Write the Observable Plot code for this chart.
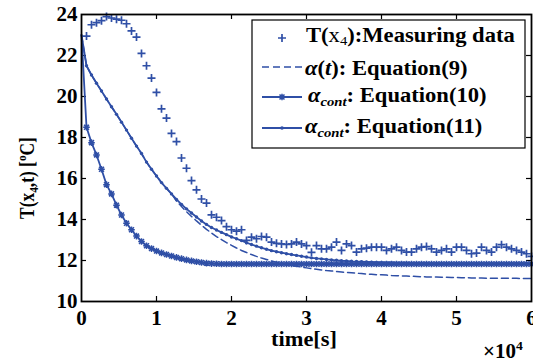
<!DOCTYPE html>
<html>
<head>
<meta charset="utf-8">
<script src="https://cdn.jsdelivr.net/npm/d3@7"></script>
<script src="https://cdn.jsdelivr.net/npm/@observablehq/plot@0.6"></script>
<style>
  html, body { margin: 0; padding: 0; background: #fff; }
  #chart { width: 533px; height: 361px; }
</style>
</head>
<body>
<div id="chart"></div>
<script>
// ---- data ----
const time = [0, 667, 1333, 2000, 2667, 3333, 4000, 4667, 5333, 6000,
  6667, 7333, 8000, 8667, 9333, 10000, 10667, 11333, 12000, 12667,
  13333, 14000, 14667, 15333, 16000, 16667, 17333, 18000, 18667, 19333,
  20000, 20667, 21333, 22000, 22667, 23333, 24000, 24667, 25333, 26000,
  26667, 27333, 28000, 28667, 29333, 30000, 30667, 31333, 32000, 32667,
  33333, 34000, 34667, 35333, 36000, 36667, 37333, 38000, 38667, 39333,
  40000, 40667, 41333, 42000, 42667, 43333, 44000, 44667, 45333, 46000,
  46667, 47333, 48000, 48667, 49333, 50000, 50667, 51333, 52000, 52667,
  53333, 54000, 54667, 55333, 56000, 56667, 57333, 58000, 58667, 59333, 60000];

const measured = [null,
  22.95, 23.5, 23.6, 23.7, 23.9, 23.83, 23.77, 23.72, 23.55, 23.2,
  22.9, 22.1, 21.5, 20.9, 20.2, 19.4, 18.95, 18.2, 17.8, 17.0,
  16.5, 15.9, 15.45, 15.0, 14.8, 14.23, 14.11, 13.95, 13.65, 13.5,
  13.43, 13.5, 12.98, 13.14, 13.06, 13.17, 13.14, 12.9, 12.84, 12.81,
  12.78, 12.81, 12.9, 12.81, 12.73, 12.4, 12.73, 12.57, 12.57, 12.65,
  12.9, 12.49, 12.81, 12.73, 12.41, 12.57, 12.6, 12.65, 12.65, 12.65,
  12.49, 12.57, 12.65, 12.49, 12.41, 12.41, 12.57, 12.65, 12.68, 12.57,
  12.41, 12.49, 12.57, 12.41, 12.65, 12.65, 12.49, 12.33, 12.36, 12.65,
  12.49, 12.41, 12.65, 12.77, 12.65, 12.57, 12.49, 12.41, 12.33, 12.2];

const eq9 = [23.0,
  21.5, 21.05, 20.65, 20.27, 19.88, 19.5, 19.13, 18.75, 18.36, 17.96,
  17.58, 17.22, 16.8, 16.45, 16.12, 15.8, 15.52, 15.25, 14.9, 14.63,
  14.38, 14.15, 13.93, 13.72, 13.52, 13.34, 13.17, 13.02, 12.87, 12.74,
  12.61, 12.49, 12.39, 12.29, 12.2, 12.12, 12.05, 11.98, 11.92, 11.86,
  11.81, 11.76, 11.72, 11.68, 11.64, 11.6, 11.57, 11.54, 11.51, 11.49,
  11.46, 11.44, 11.42, 11.4, 11.38, 11.36, 11.34, 11.33, 11.31, 11.3,
  11.29, 11.27, 11.26, 11.25, 11.24, 11.23, 11.22, 11.21, 11.2, 11.2,
  11.19, 11.18, 11.18, 11.17, 11.17, 11.16, 11.16, 11.15, 11.15, 11.15,
  11.14, 11.14, 11.14, 11.13, 11.13, 11.13, 11.13, 11.12, 11.12, 11.12];

const eq10 = [23.0,
  18.5, 17.75, 17.15, 16.45, 15.7, 15.25, 14.7, 14.22, 13.82, 13.5,
  13.19, 12.93, 12.72, 12.58, 12.46, 12.37, 12.29, 12.22, 12.15, 12.09,
  12.03, 11.98, 11.94, 11.9, 11.87, 11.85, 11.84, 11.83, 11.83, 11.83,
  11.83, 11.83, 11.83, 11.83, 11.83, 11.83, 11.83, 11.83, 11.83, 11.83,
  11.83, 11.83, 11.83, 11.83, 11.83, 11.83, 11.83, 11.83, 11.83, 11.83,
  11.83, 11.83, 11.83, 11.83, 11.83, 11.83, 11.83, 11.83, 11.83, 11.83,
  11.83, 11.83, 11.83, 11.83, 11.83, 11.83, 11.83, 11.83, 11.83, 11.83,
  11.83, 11.83, 11.83, 11.83, 11.83, 11.83, 11.83, 11.83, 11.83, 11.83,
  11.83, 11.83, 11.83, 11.83, 11.83, 11.83, 11.83, 11.83, 11.83, 11.83];

const eq11 = [23.0,
  21.5, 21.05, 20.65, 20.27, 19.88, 19.5, 19.13, 18.75, 18.36, 17.96,
  17.58, 17.22, 16.8, 16.45, 16.12, 15.8, 15.52, 15.25, 14.98, 14.74,
  14.52, 14.32, 14.12, 13.93, 13.76, 13.61, 13.49, 13.37, 13.26, 13.15,
  13.06, 12.97, 12.87, 12.78, 12.7, 12.62, 12.55, 12.48, 12.43, 12.38,
  12.33, 12.29, 12.25, 12.21, 12.17, 12.13, 12.1, 12.08, 12.05, 12.03,
  12.01, 11.99, 11.98, 11.96, 11.95, 11.94, 11.93, 11.92, 11.91, 11.9,
  11.89, 11.89, 11.88, 11.88, 11.88, 11.87, 11.87, 11.87, 11.87, 11.86,
  11.86, 11.86, 11.86, 11.86, 11.86, 11.86, 11.86, 11.86, 11.86, 11.86,
  11.86, 11.86, 11.86, 11.86, 11.86, 11.86, 11.86, 11.86, 11.86, 11.86];

const yTicks = [10, 12, 14, 16, 18, 20, 22, 24];
const xTicks = [0, 10000, 20000, 30000, 40000, 50000, 60000];
const xTickLabels = ["0", "1", "2", "3", "4", "5", "6"];
const xLabel = "time[s]";
const xExponent = ["×10", "4"];
const legendLabels = ["Measuring data", "Equation(9)", "Equation(10)", "Equation(11)"];

// ---- rendering ----
const blue = "#2f4fa6";
const rows = time.map((t, i) => ({t, meas: measured[i], eq9: eq9[i], eq10: eq10[i], eq11: eq11[i]}));

const crossSymbol = {
  draw(ctx, size) {
    const r = Math.sqrt(size / Math.PI);
    ctx.moveTo(-r, 0); ctx.lineTo(r, 0);
    ctx.moveTo(0, -r); ctx.lineTo(0, r);
  }
};
const starSymbol = {
  draw(ctx, size) {
    const r = Math.sqrt(size / Math.PI);
    const d = r * 0.75;
    ctx.moveTo(-r, 0); ctx.lineTo(r, 0);
    ctx.moveTo(0, -r); ctx.lineTo(0, r);
    ctx.moveTo(-d, -d); ctx.lineTo(d, d);
    ctx.moveTo(-d, d); ctx.lineTo(d, -d);
  }
};

const innerX = xTicks.slice(1, -1);
const innerY = yTicks.slice(1, -1);
const yPx = 14 / 287;      // data units per pixel (y)
const xPx = 60000 / 450;   // data units per pixel (x)
const tickLen = 5;

const chart = Plot.plot({
  width: 533,
  height: 361,
  marginLeft: 81,
  marginRight: 2,
  marginTop: 14,
  marginBottom: 60,
  style: {fontFamily: "'Liberation Serif', 'Times New Roman', serif", fontSize: "21px", fontWeight: "bold", color: "#000", background: "#fff"},
  x: {domain: [0, 60000]},
  y: {domain: [10, 24]},
  marks: [
    Plot.ruleX(innerX, {x: d => d, y1: 10, y2: 10 + tickLen * yPx, stroke: "#000", strokeWidth: 1.2}),
    Plot.ruleX(innerX, {x: d => d, y1: 24, y2: 24 - tickLen * yPx, stroke: "#000", strokeWidth: 1.2}),
    Plot.ruleY(innerY, {y: d => d, x1: 0, x2: tickLen * xPx, stroke: "#000", strokeWidth: 1.2}),
    Plot.ruleY(innerY, {y: d => d, x1: 60000, x2: 60000 - tickLen * xPx, stroke: "#000", strokeWidth: 1.2}),
    Plot.line(rows, {x: "t", y: "eq9", stroke: blue, strokeWidth: 1.5, strokeDasharray: "7,4"}),
    Plot.line(rows, {x: "t", y: "eq11", stroke: blue, strokeWidth: 1.8}),
    Plot.dot(rows, {filter: (d, i) => i > 0, x: "t", y: "eq11", r: 1.7, fill: blue, stroke: "none"}),
    Plot.line(rows, {x: "t", y: "eq10", stroke: blue, strokeWidth: 1.8}),
    Plot.dot(rows, {filter: (d, i) => i > 0, x: "t", y: "eq10", symbol: starSymbol, r: 3.3, stroke: blue, strokeWidth: 1.5, fill: "none"}),
    Plot.dot(rows, {filter: d => d.meas != null, x: "t", y: "meas", symbol: crossSymbol, r: 4, stroke: blue, strokeWidth: 1.7, fill: "none"}),
    Plot.axisY({ticks: yTicks, tickSize: 0, tickPadding: 4, label: null, fontSize: 21, fontWeight: "bold"}),
    Plot.axisX({ticks: xTicks, tickFormat: d => xTickLabels[xTicks.indexOf(d)], tickSize: 0, tickPadding: 9, label: null, fontSize: 21, fontWeight: "bold"}),
    Plot.frame({stroke: "#000", strokeWidth: 1.8})
  ]
});
document.getElementById("chart").appendChild(chart);

// ---- annotations (axis titles, exponent, legend) ----
const svg = d3.select(chart);
const font = "'Liberation Serif', 'Times New Roman', serif";
const boldText = (sel) => sel.attr("font-family", font).attr("font-size", 20)
  .attr("font-weight", "bold").attr("fill", "#000");

// y title
const yt = boldText(svg.append("text"))
  .attr("transform", "translate(27,178) rotate(-90) scale(0.87,1)")
  .attr("text-anchor", "middle").attr("dy", "0.35em");
yt.append("tspan").text("T(x");
yt.append("tspan").attr("font-size", 13).attr("dy", 4).text("4");
yt.append("tspan").attr("dy", -4).text(",t) [");
yt.append("tspan").attr("font-size", 13).attr("dy", -8).text("o");
yt.append("tspan").attr("dy", 8).text("C]");

// x title
boldText(svg.append("text")).attr("transform", "translate(304,346) scale(1.12,1)")
  .attr("text-anchor", "middle").text(xLabel);
const ex = boldText(svg.append("text")).attr("transform", "translate(483,358) scale(1.05,1)")
  .attr("text-anchor", "start");
ex.append("tspan").text(xExponent[0]);
ex.append("tspan").attr("font-size", 13).attr("dy", -8).text(xExponent[1]);

// legend
const lg = svg.append("g");
lg.append("rect").attr("x", 252).attr("y", 20).attr("width", 273).attr("height", 128)
  .attr("fill", "#fff").attr("stroke", "#000").attr("stroke-width", 1.2);

const sym = (s, r) => d3.symbol().type(s).size(Math.PI * r * r)();
// row 1
lg.append("path").attr("d", sym(crossSymbol, 4)).attr("transform", "translate(282,38)")
  .attr("stroke", blue).attr("stroke-width", 1.7).attr("fill", "none");
// row 2
lg.append("line").attr("x1", 262).attr("x2", 302).attr("y1", 67).attr("y2", 67)
  .attr("stroke", blue).attr("stroke-width", 1.5).attr("stroke-dasharray", "7,4");
// row 3
lg.append("line").attr("x1", 262).attr("x2", 302).attr("y1", 97).attr("y2", 97)
  .attr("stroke", blue).attr("stroke-width", 1.8);
lg.append("path").attr("d", sym(starSymbol, 3.3)).attr("transform", "translate(282,97)")
  .attr("stroke", blue).attr("stroke-width", 1.5).attr("fill", "none");
// row 4
lg.append("line").attr("x1", 262).attr("x2", 302).attr("y1", 128).attr("y2", 128)
  .attr("stroke", blue).attr("stroke-width", 1.8);
lg.append("circle").attr("cx", 282).attr("cy", 128).attr("r", 1.8).attr("fill", blue);

function ltext(x, y) {
  return boldText(lg.append("text")).attr("text-anchor", "start")
    .attr("transform", `translate(${x},${y}) scale(1.13,1)`);
}
const t1 = ltext(306, 42);
t1.append("tspan").text("T(");
t1.append("tspan").attr("font-weight", "normal").text("x");
t1.append("tspan").attr("font-size", 13).attr("font-weight", "normal").attr("dy", 3).text("4");
t1.append("tspan").attr("dy", -3).text("):" + legendLabels[0]);

const t2 = ltext(305, 75);
t2.append("tspan").attr("font-style", "italic").text("α");
t2.append("tspan").text("(");
t2.append("tspan").attr("font-style", "italic").text("t");
t2.append("tspan").text("): " + legendLabels[1]);

[[308, 102, legendLabels[2]], [305, 133, legendLabels[3]]].forEach(([x, y, lab]) => {
  const t = ltext(x, y);
  t.append("tspan").attr("font-style", "italic").text("α");
  t.append("tspan").attr("font-style", "italic").attr("font-size", 13).attr("dy", 4).text("cont");
  t.append("tspan").attr("dy", -4).text(": " + lab);
});
</script>
</body>
</html>
